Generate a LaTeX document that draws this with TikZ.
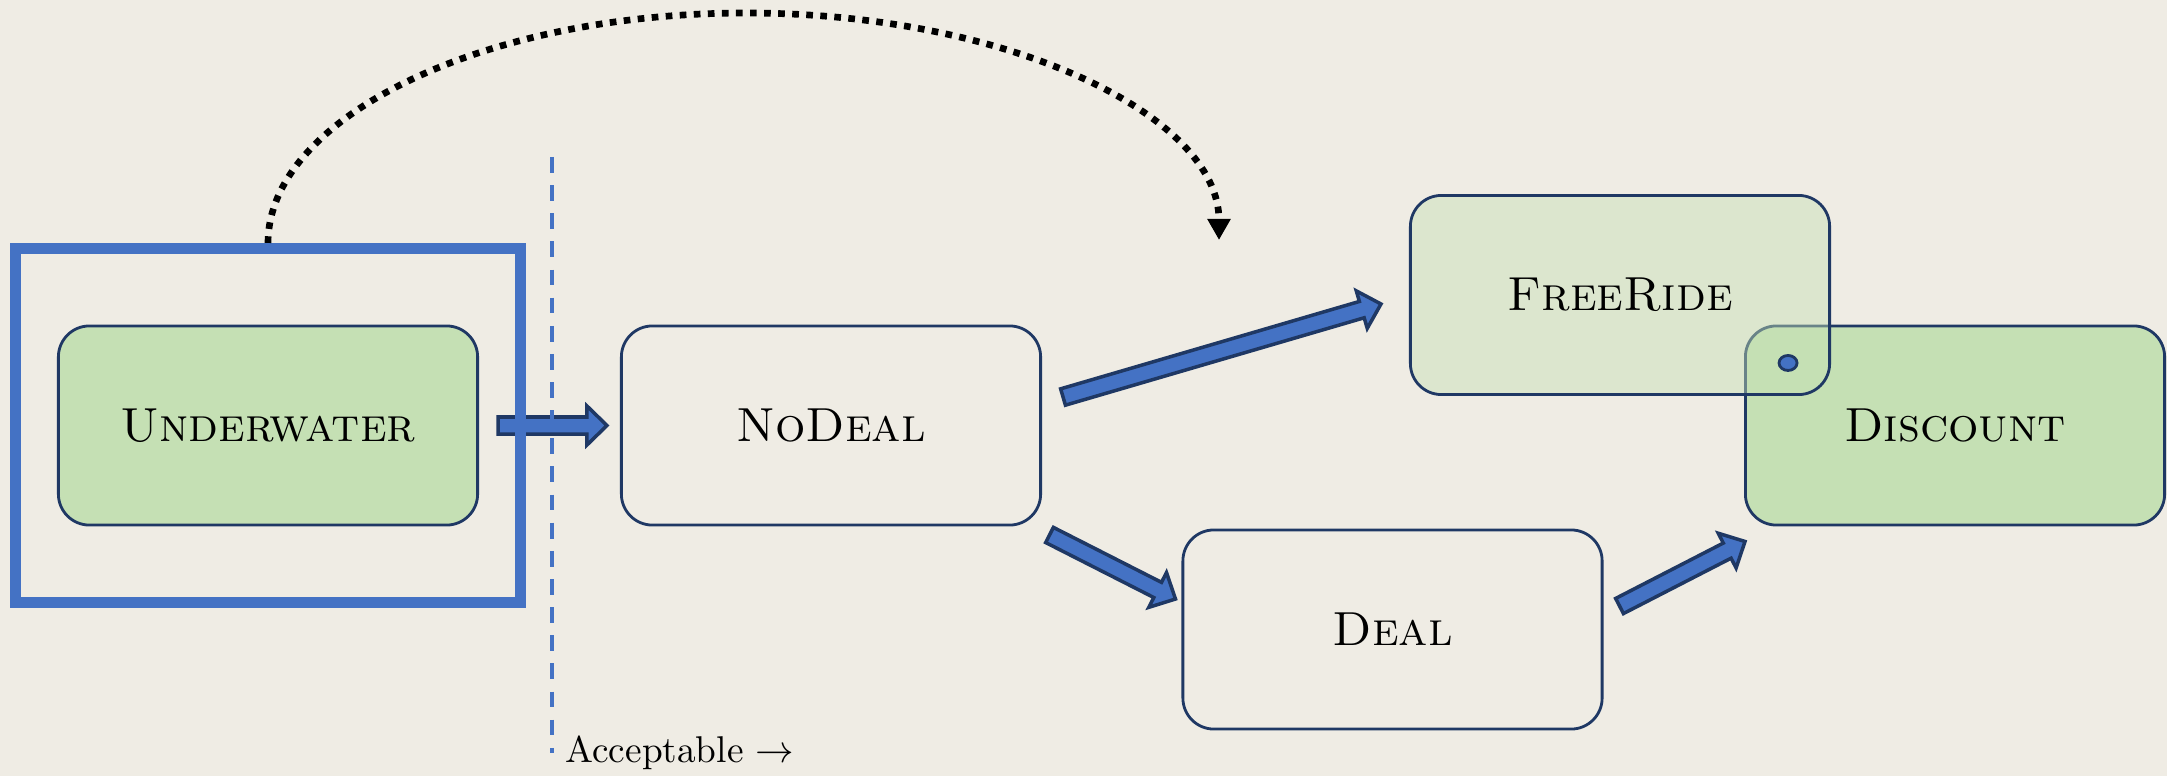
\documentclass[tikz,border=0pt]{standalone}
\usetikzlibrary{calc,arrows.meta,shapes.geometric}
\definecolor{paper}{HTML}{EFECE4}
\definecolor{accent}{HTML}{4472C4}
\definecolor{navy}{HTML}{1F3864}
\definecolor{leaf}{HTML}{C5E0B4}
\tikzset{
  state/.style={draw=navy, line width=0.8pt, rounded corners=0.31cm,
    minimum width=4.19cm, minimum height=1.99cm, inner sep=0pt,
    font=\fontsize{13.6}{16}\selectfont\scshape},
  goal/.style={state, fill=leaf},
  faded/.style={state, fill=leaf, fill opacity=0.45, text opacity=1, draw opacity=1},
  blockarrow/.style={draw=navy, fill=accent, line width=1pt, line join=miter},
  framebox/.style={draw=accent, line width=3.1pt, minimum width=5.04cm, minimum height=3.54cm},
  threshold/.style={draw=accent, line width=1pt, dash pattern=on 4.5pt off 3.5pt},
  jump/.style={line width=1.9pt, dash pattern=on 1.9pt off 2.1pt,
    -{Triangle[length=0.21cm,width=0.22cm]}},
  pinmark/.style={ellipse, draw=navy, fill=accent, line width=0.8pt,
    minimum width=0.18cm, minimum height=0.15cm, inner sep=0pt},
}
% thick outlined arrow from #1 to #2
\newcommand\blockarrow[2]{%
  \coordinate (ba-s) at (#1);
  \coordinate (ba-e) at (#2);
  \coordinate (ba-h) at ($(ba-e)!0.2cm!(ba-s)$);
  \draw[blockarrow] ($(ba-s)!0.085cm!90:(ba-e)$) -- ($(ba-h)!0.085cm!90:(ba-e)$)
    -- ($(ba-h)!0.195cm!90:(ba-e)$) -- (ba-e) -- ($(ba-h)!0.195cm!-90:(ba-e)$)
    -- ($(ba-h)!0.085cm!-90:(ba-e)$) -- ($(ba-s)!0.085cm!-90:(ba-e)$) -- cycle;
}
\begin{document}
\begin{tikzpicture}[x=0.01cm, y=-0.01cm]
  \path[use as bounding box, fill=paper] (0,0) rectangle (2167,776);

  % states
  \node[goal]  (under)    at (268,425.5)    {Underwater};
  \node[state] (nodeal)   at (831,425.5)    {NoDeal};
  \node[state] (deal)     at (1392.5,629.5) {Deal};
  \node[goal]  (discount) at (1955,425.5)   {Discount};
  \node[faded] (freeride) at (1620,295)     {FreeRide};
  \node[pinmark] (pin) at ($(freeride.south east)+(-43,-33)$) {};

  % transitions
  \coordinate (a1s) at ($(under.east)+(19,0)$);
  \coordinate (a1e) at ($(nodeal.west)+(-13,0)$);
  \coordinate (a2s) at ($(nodeal.east)+(21,-28.5)$);
  \coordinate (a2e) at ($(freeride.west)+(-28,9)$);
  \coordinate (a3s) at ($(nodeal.south east)+(7.5,8.5)$);
  \coordinate (a3e) at ($(deal.west)+(-6,-30.5)$);
  \coordinate (a4s) at ($(deal.east)+(16,-23.5)$);
  \coordinate (a4e) at ($(discount.south west)+(1,15)$);
  \blockarrow{a1s}{a1e}
  \blockarrow{a2s}{a2e}
  \blockarrow{a3s}{a3e}
  \blockarrow{a4s}{a4e}

  % starting region
  \node[framebox] (frame) at (under) {};

  % acceptance threshold
  \coordinate (thrtop) at (552,157);
  \coordinate (thrbot) at (552,753);
  \draw[threshold] (thrtop) -- (thrbot)
    node[right, text=black, font=\fontsize{10.6}{12}\selectfont] (acc) {Acceptable $\rightarrow$};

  % jump over the threshold
  \coordinate (arcend) at (1219,240);
  \draw[jump] (frame.north) .. controls (268,118) and (482,13) .. (746,13)
    .. controls (1007,13) and (1219,115) .. (arcend);
\end{tikzpicture}
\end{document}
